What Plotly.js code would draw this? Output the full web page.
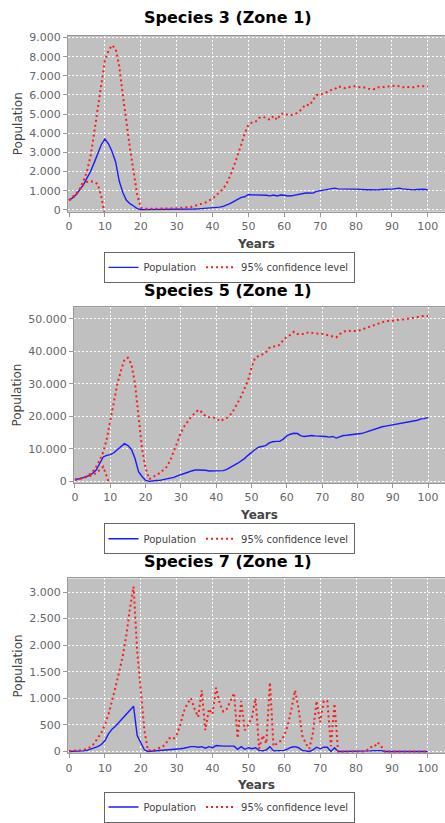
<!DOCTYPE html>
<html>
<head>
<meta charset="utf-8">
<script src="https://cdn.plot.ly/plotly-3.0.1.min.js"></script>
<style>html,body{margin:0;padding:0;background:#fff;}#chart{width:445px;height:823px;}</style>
</head>
<body>
<div id="chart"></div>
<script>
const years = [0,1,2,3,4,5,6,7,8,9,10,11,12,13,14,15,16,17,18,19,20,21,22,23,24,25,26,27,28,29,30,31,32,33,34,35,36,37,38,39,40,41,42,43,44,45,46,47,48,49,50,51,52,53,54,55,56,57,58,59,60,61,62,63,64,65,66,67,68,69,70,71,72,73,74,75,76,77,78,79,80,81,82,83,84,85,86,87,88,89,90,91,92,93,94,95,96,97,98,99,100];
const lowerYears3 = [0,1,2,3,4,5,6,7,8,9,10];
const lowerYears5 = [0,1,2,3,4,5,6,7,8,9,10];

const titles = ["Species 3 (Zone 1)", "Species 5 (Zone 1)", "Species 7 (Zone 1)"];
const seriesNames = ["Population", "95% confidence level"];
const xTitle = "Years";
const yTitle = "Population";

// Species 3
const pop3 = [500,620,800,1050,1300,1650,2000,2450,2900,3400,3700,3450,3050,2500,1500,900,500,320,200,60,10,10,10,10,15,15,15,20,20,25,30,30,35,35,40,40,50,60,70,80,100,110,140,180,240,330,440,540,650,680,800,780,780,780,780,760,730,770,720,770,760,720,730,770,790,830,880,880,870,960,1000,1000,1050,1080,1130,1090,1080,1080,1080,1080,1080,1060,1050,1050,1050,1040,1040,1060,1080,1080,1080,1090,1130,1090,1070,1050,1040,1060,1080,1070,1050];
const upper3 = [500,650,850,1100,1500,2000,2800,4000,5300,6600,7800,8300,8600,8400,7500,6000,4500,3200,2000,800,100,50,50,50,50,55,55,60,60,70,80,100,110,120,150,200,250,300,380,480,580,750,900,1100,1400,1800,2300,2800,3400,4000,4450,4550,4600,4800,4850,4800,4700,4900,4700,5000,5050,4950,4950,5000,5100,5300,5500,5450,5700,6000,6000,6100,6150,6250,6300,6450,6400,6350,6400,6450,6450,6400,6400,6350,6300,6300,6400,6400,6420,6450,6450,6480,6450,6400,6420,6420,6400,6450,6450,6450,6450];
const lower3 = [500,600,800,1050,1300,1450,1500,1450,1350,700,-300];

// Species 5
const pop5 = [500,700,1000,1400,1800,2500,3500,5500,7500,8000,8200,8800,9800,10800,11600,11000,9800,7000,3000,1500,300,0,200,250,300,500,700,900,1200,1700,2000,2300,2800,3200,3500,3500,3500,3400,3200,3200,3200,3200,3300,3700,4200,4900,5500,6200,7000,8000,9000,9800,10500,10700,11000,11800,12200,12300,12300,13000,14000,14500,14800,14700,14000,13800,14000,14100,14000,14000,14000,13800,13600,13800,13300,13800,14100,14200,14300,14300,14400,14700,15000,15400,15800,16200,16500,16800,17000,17200,17300,17500,17700,17900,18000,18200,18400,18800,19200,19300,19700];
const upper5 = [500,700,1000,1400,2000,3000,4500,6500,9000,13000,19000,25000,30000,34000,37500,38000,36000,30000,20000,10000,4000,700,1200,2000,2500,3500,4500,6500,9000,12000,15000,17000,18500,20000,21000,22000,21200,20000,19700,19500,19500,18500,19000,19500,20500,22000,24000,26000,28500,31000,35000,38000,38500,39000,39500,41000,41500,41500,42000,43500,44500,45000,46000,45300,45300,45300,45800,45600,45600,45400,45400,45100,44800,44600,44300,45300,46000,46300,46300,46100,46200,46600,47000,47300,47600,48000,48500,49000,49300,49300,49500,49500,49700,49800,50000,50200,50400,50600,50800,50900,50800];
const lower5 = [500,700,900,1200,1500,2000,2500,3500,4500,1500,-2000];

// Species 7
const pop7 = [0,0,5,5,10,20,40,70,90,130,200,330,420,480,550,630,700,780,850,300,150,30,0,5,10,15,20,20,25,30,40,50,60,80,90,90,80,90,60,90,70,110,100,100,100,100,100,40,90,40,70,50,70,20,10,30,90,10,10,15,20,50,80,90,70,20,10,0,30,80,50,80,80,0,70,0,0,0,0,0,0,0,0,0,10,15,20,15,0,0,0,0,0,0,0,0,0,0,0,0,0];
const upper7 = [10,10,15,20,30,50,80,150,250,350,500,700,950,1200,1500,1800,2200,2700,3100,1900,1200,400,20,20,30,60,80,150,250,230,300,500,750,900,1000,800,650,1150,400,800,700,1200,900,750,800,950,1100,250,950,400,500,650,1000,50,300,150,1300,100,150,200,300,500,800,1150,800,300,150,50,350,950,550,950,950,100,900,0,0,0,0,0,0,0,0,20,80,80,170,100,0,0,0,0,0,0,0,0,0,0,0,0,0];

const tickLabelsX = ["0","10","20","30","40","50","60","70","80","90","100"];

const W = 445, H = 823;
const BLUE = '#1a1aff', RED = '#ff1a1a';
const dotDash = '2px,3px';

function py(p){ return 1 - p / H; }

const panels = [
  {pop: pop3, up: upper3, lo: lower3, loX: lowerYears3, left: 68, top: 36, bottom: 213, yr: [-100, 9090], dt: 1000, titleY: 18, legY: 269},
  {pop: pop5, up: upper5, lo: lower5, loX: lowerYears5, left: 74, top: 309, bottom: 486, yr: [-520, 53578], dt: 10000, titleY: 292, legY: 542},
  {pop: pop7, up: upper7, lo: null, loX: null, left: 68, top: 582, bottom: 758, yr: [-37, 3256], dt: 500, titleY: 565, legY: 812}
];

const data = [];
const layout = {
  width: W, height: H,
  margin: {l: 0, r: 0, t: 0, b: 0},
  paper_bgcolor: '#ffffff',
  plot_bgcolor: '#c0c0c0',
  separators: ',.',
  showlegend: true,
  annotations: [],
  font: {family: 'DejaVu Sans', size: 11, color: '#555'}
};

panels.forEach((p, i) => {
  const n = i + 1;
  const xa = 'x' + (n === 1 ? '' : n), ya = 'y' + (n === 1 ? '' : n);
  const legName = 'legend' + (n === 1 ? '' : n);
  data.push({x: years, y: p.pop, xaxis: xa, yaxis: ya, type: 'scatter', mode: 'lines', name: seriesNames[0],
    line: {color: BLUE, width: 1.4}, legend: legName, legendgroup: 'p' + n});
  data.push({x: years, y: p.up, xaxis: xa, yaxis: ya, type: 'scatter', mode: 'lines', name: seriesNames[1],
    line: {color: RED, width: 2, dash: dotDash}, legend: legName, legendgroup: 'c' + n});
  if (p.lo) {
    data.push({x: p.loX, y: p.lo, xaxis: xa, yaxis: ya, type: 'scatter', mode: 'lines', name: seriesNames[1],
      line: {color: RED, width: 2, dash: dotDash}, legend: legName, legendgroup: 'c' + n, showlegend: false});
  }
  const xKey = 'xaxis' + (n === 1 ? '' : n), yKey = 'yaxis' + (n === 1 ? '' : n);
  layout[xKey] = {
    domain: [p.left / W, 1], anchor: ya, range: [-0.28, 104.8],
    tickmode: 'array', tickvals: tickLabelsX.map(Number), ticktext: tickLabelsX,
    ticks: 'outside', ticklen: 4, tickcolor: '#999', tickfont: {family: 'DejaVu Sans', size: 11, color: '#666'},
    showline: true, linecolor: '#999', linewidth: 1, mirror: true,
    showgrid: true, gridcolor: '#ffffff', gridwidth: 1, griddash: '2px,2px', zeroline: false,
    title: {text: xTitle, font: {family: 'DejaVu Sans', size: 12, color: '#444', weight: 'bold'}, standoff: 7},
    fixedrange: true
  };
  layout[yKey] = {
    domain: [py(p.bottom), py(p.top)], anchor: xa, range: p.yr,
    dtick: p.dt, tick0: 0, tickformat: ',d',
    ticks: 'outside', ticklen: 4, tickcolor: '#999', tickfont: {family: 'DejaVu Sans', size: 11, color: '#666'},
    showline: true, linecolor: '#999', linewidth: 1, mirror: true,
    showgrid: true, gridcolor: '#ffffff', gridwidth: 1, griddash: '2px,2px', zeroline: false,
    title: {text: yTitle, font: {family: 'DejaVu Sans', size: 12, color: '#444'}, standoff: 4},
    fixedrange: true
  };
  layout[legName] = {
    x: 229 / W, y: py(p.legY), xanchor: 'center', yanchor: 'middle', orientation: 'h',
    bgcolor: '#ffffff', bordercolor: '#666', borderwidth: 1,
    font: {family: 'DejaVu Sans', size: 10, color: '#444'}, itemwidth: 30, tracegroupgap: 0,
    itemclick: false, itemdoubleclick: false
  };
  layout.annotations.push({
    text: titles[i], xref: 'paper', yref: 'paper', x: 228 / W, y: py(p.titleY),
    xanchor: 'center', yanchor: 'middle', showarrow: false,
    font: {family: 'DejaVu Sans', size: 16, color: '#000', weight: 'bold'}
  });
});

Plotly.newPlot('chart', data, layout, {displayModeBar: false, staticPlot: true});
</script>
</body>
</html>
